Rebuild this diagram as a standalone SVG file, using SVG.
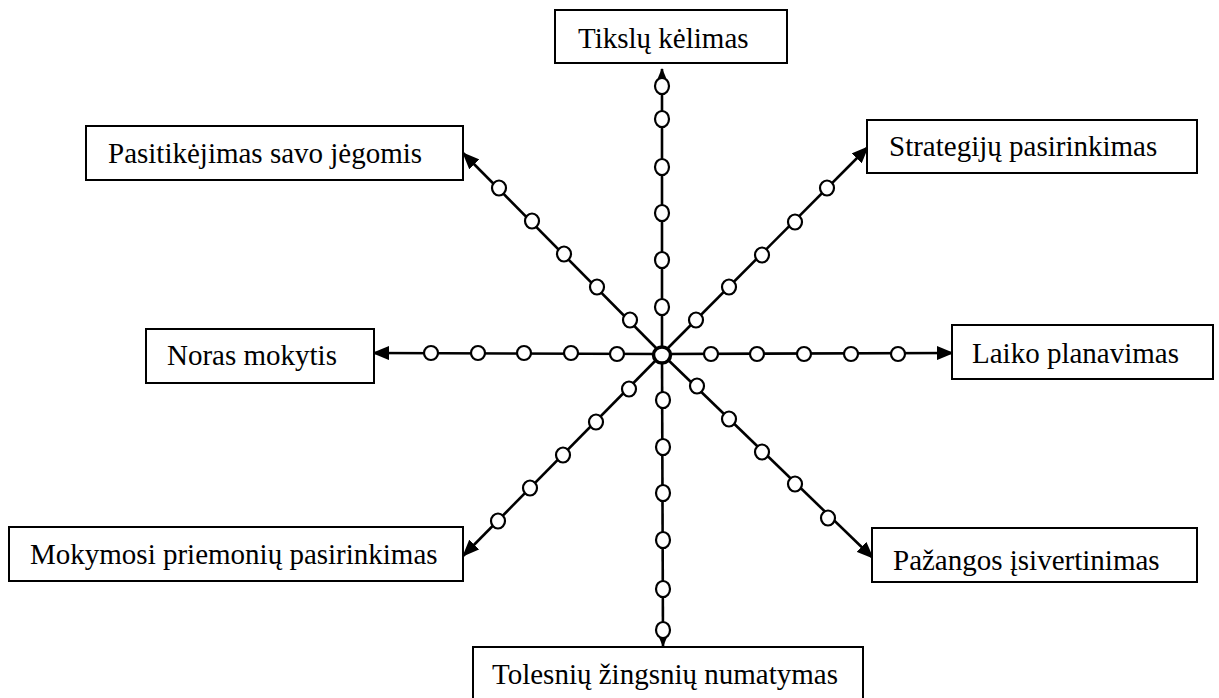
<svg xmlns="http://www.w3.org/2000/svg" width="1219" height="698" viewBox="0 0 1219 698">
<style>
.box rect{fill:#fff;stroke:#000;stroke-width:2}
.box text{font-family:'Liberation Serif','DejaVu Serif',serif;font-size:29px;fill:#000}
.conn line{stroke:#000;stroke-width:2.6}
.dot{fill:#fff;stroke:#000;stroke-width:2.2}
</style>
<defs>
<marker id="ah" markerWidth="17" markerHeight="14" refX="16" refY="7" orient="auto" markerUnits="userSpaceOnUse">
<path d="M0,0 L17,7 L0,14 Z" fill="#000"/>
</marker>
</defs>
<rect width="1219" height="698" fill="#fff"/>
<g id="connectors" class="conn">
<line x1="662" y1="354" x2="662" y2="69" marker-end="url(#ah)"/>
<line x1="662" y1="354" x2="663" y2="646" marker-end="url(#ah)"/>
<line x1="662" y1="354" x2="373" y2="353" marker-end="url(#ah)"/>
<line x1="662" y1="354" x2="953" y2="353" marker-end="url(#ah)"/>
<line x1="662" y1="354" x2="463" y2="153" marker-end="url(#ah)"/>
<line x1="662" y1="354" x2="868" y2="147" marker-end="url(#ah)"/>
<line x1="662" y1="354" x2="463" y2="556" marker-end="url(#ah)"/>
<line x1="662" y1="354" x2="873" y2="558" marker-end="url(#ah)"/>
<g id="dots">
<ellipse class="dot" cx="662" cy="86" rx="7" ry="8"/>
<ellipse class="dot" cx="662" cy="119" rx="7" ry="8"/>
<ellipse class="dot" cx="662" cy="167" rx="7" ry="8"/>
<ellipse class="dot" cx="662" cy="213" rx="7" ry="8"/>
<ellipse class="dot" cx="662" cy="260" rx="7" ry="8"/>
<ellipse class="dot" cx="662" cy="307" rx="7" ry="8"/>
<ellipse class="dot" cx="663" cy="400" rx="7" ry="8"/>
<ellipse class="dot" cx="663" cy="447" rx="7" ry="8"/>
<ellipse class="dot" cx="663" cy="493" rx="7" ry="8"/>
<ellipse class="dot" cx="663" cy="540" rx="7" ry="8"/>
<ellipse class="dot" cx="663" cy="589" rx="7" ry="8"/>
<ellipse class="dot" cx="663" cy="630" rx="7" ry="8"/>
<ellipse class="dot" cx="431" cy="353" rx="7" ry="7"/>
<ellipse class="dot" cx="478" cy="353" rx="7" ry="7"/>
<ellipse class="dot" cx="524" cy="353" rx="7" ry="7"/>
<ellipse class="dot" cx="571" cy="353" rx="7" ry="7"/>
<ellipse class="dot" cx="617" cy="354" rx="7" ry="7"/>
<ellipse class="dot" cx="711" cy="354" rx="7" ry="7"/>
<ellipse class="dot" cx="757" cy="354" rx="7" ry="7"/>
<ellipse class="dot" cx="804" cy="354" rx="7" ry="7"/>
<ellipse class="dot" cx="851" cy="354" rx="7" ry="7"/>
<ellipse class="dot" cx="898" cy="354" rx="7" ry="7"/>
<ellipse class="dot" cx="499" cy="188" rx="7" ry="7.5"/>
<ellipse class="dot" cx="532" cy="221" rx="7" ry="7.5"/>
<ellipse class="dot" cx="564" cy="254" rx="7" ry="7.5"/>
<ellipse class="dot" cx="597" cy="287" rx="7" ry="7.5"/>
<ellipse class="dot" cx="630" cy="320" rx="7" ry="7.5"/>
<ellipse class="dot" cx="696" cy="320" rx="7" ry="7.5"/>
<ellipse class="dot" cx="729" cy="287" rx="7" ry="7.5"/>
<ellipse class="dot" cx="762" cy="255" rx="7" ry="7.5"/>
<ellipse class="dot" cx="795" cy="222" rx="7" ry="7.5"/>
<ellipse class="dot" cx="827" cy="188" rx="7" ry="7.5"/>
<ellipse class="dot" cx="629" cy="389" rx="7" ry="7.5"/>
<ellipse class="dot" cx="596" cy="422" rx="7" ry="7.5"/>
<ellipse class="dot" cx="563" cy="455" rx="7" ry="7.5"/>
<ellipse class="dot" cx="530" cy="488" rx="7" ry="7.5"/>
<ellipse class="dot" cx="498" cy="521" rx="7" ry="7.5"/>
<ellipse class="dot" cx="697" cy="386" rx="7" ry="7.5"/>
<ellipse class="dot" cx="729" cy="419" rx="7" ry="7.5"/>
<ellipse class="dot" cx="762" cy="452" rx="7" ry="7.5"/>
<ellipse class="dot" cx="795" cy="484" rx="7" ry="7.5"/>
<ellipse class="dot" cx="828" cy="518" rx="7" ry="7.5"/>
<ellipse cx="662" cy="355" rx="8.5" ry="8" fill="#fff" stroke="#000" stroke-width="3.5"/>
</g>
</g>
<g id="n-tikslu" class="box"><rect x="555" y="10" width="232" height="53"/><text x="578" y="48" font-family="Liberation Serif">Tikslų kėlimas</text></g>
<g id="n-pasitikejimas" class="box"><rect x="86" y="126" width="377" height="54"/><text x="108" y="163" font-family="Liberation Serif">Pasitikėjimas savo jėgomis</text></g>
<g id="n-strategiju" class="box"><rect x="867" y="120" width="330" height="53"/><text x="889" y="156" font-family="Liberation Serif">Strategijų pasirinkimas</text></g>
<g id="n-noras" class="box"><rect x="146" y="329" width="228" height="54"/><text x="167" y="365" font-family="Liberation Serif">Noras mokytis</text></g>
<g id="n-laiko" class="box"><rect x="952" y="325" width="261" height="54"/><text x="972" y="363" font-family="Liberation Serif">Laiko planavimas</text></g>
<g id="n-mokymosi" class="box"><rect x="9" y="527" width="454" height="54"/><text x="30" y="564" font-family="Liberation Serif">Mokymosi priemonių pasirinkimas</text></g>
<g id="n-pazangos" class="box"><rect x="872" y="528" width="325" height="54"/><text x="893" y="570" font-family="Liberation Serif">Pažangos įsivertinimas</text></g>
<g id="n-tolesniu" class="box"><rect x="473" y="647" width="390" height="60"/><text x="492" y="684" font-family="Liberation Serif">Tolesnių žingsnių numatymas</text></g>
</svg>
